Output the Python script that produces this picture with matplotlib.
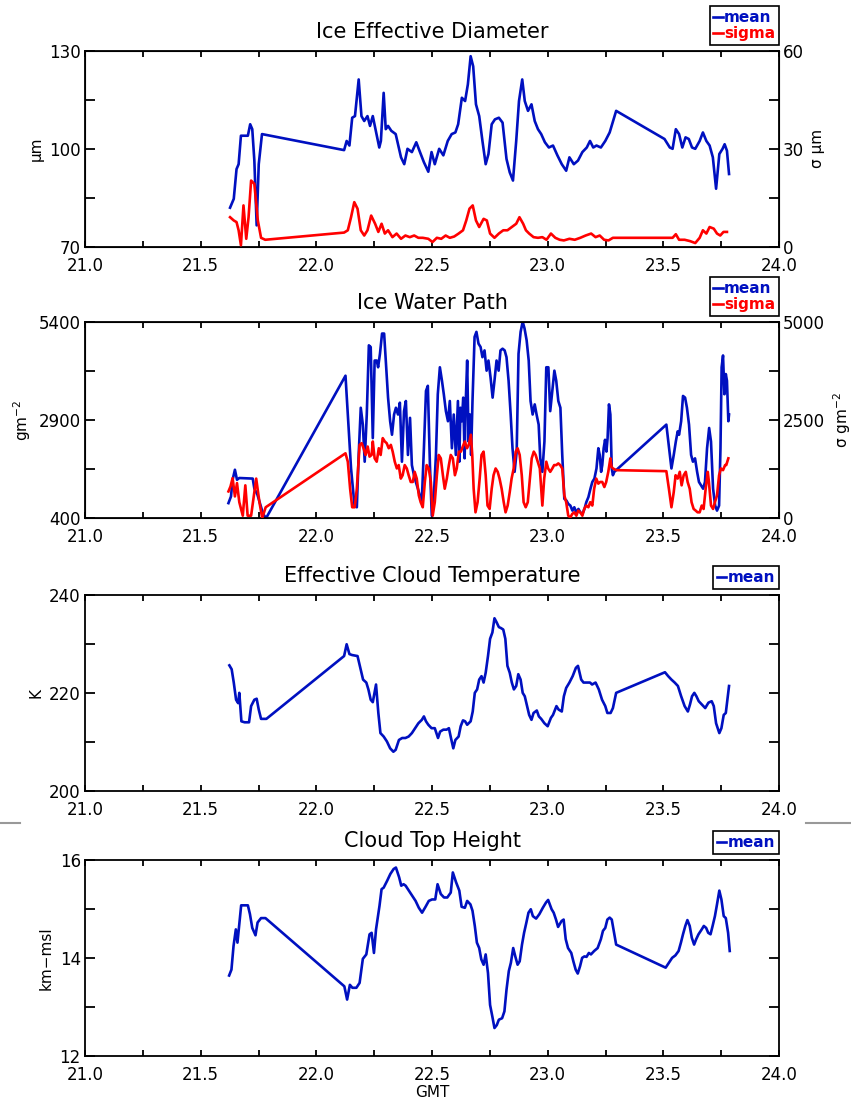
import numpy as np
import matplotlib.pyplot as plt
from matplotlib.lines import Line2D

##########################
# values (time in GMT hours)

# Ice Effective Diameter - mean (um)
ied_t = [21.627, 21.643, 21.655, 21.664, 21.674, 21.704, 21.714, 21.723, 21.732, 21.742, 21.751, 21.765,
         22.12, 22.131, 22.143, 22.155, 22.167, 22.183, 22.195, 22.207, 22.221, 22.232, 22.244, 22.26,
         22.272, 22.279, 22.291, 22.3, 22.31, 22.324, 22.343, 22.366, 22.38, 22.394, 22.413, 22.432,
         22.448, 22.465, 22.484, 22.498, 22.512, 22.531, 22.549, 22.568, 22.585, 22.601, 22.613, 22.629,
         22.643, 22.655, 22.667, 22.678, 22.69, 22.704, 22.718, 22.732, 22.744, 22.758, 22.772, 22.789,
         22.805, 22.822, 22.836, 22.85, 22.864, 22.876, 22.89, 22.901, 22.915, 22.93, 22.944, 22.958,
         22.972, 22.988, 23.005, 23.023, 23.042, 23.061, 23.08, 23.094, 23.113, 23.131, 23.15, 23.169,
         23.183, 23.197, 23.211, 23.23, 23.249, 23.268, 23.296, 23.505, 23.528, 23.54, 23.554, 23.568,
         23.582, 23.596, 23.61, 23.624, 23.638, 23.657, 23.671, 23.686, 23.7, 23.714, 23.728, 23.742,
         23.756, 23.765, 23.775, 23.784]
ied_mean = [82, 84.7, 93.8, 95.3, 104, 104, 107.5, 106, 96.4, 76.6, 95.3, 104.5,
            99.6, 102.4, 101, 109.5, 110, 121.2, 110, 108.5, 110, 107, 110, 104.5,
            100.4, 102.4, 117.1, 106, 107, 105.5, 104.5, 97.4, 95.3, 100, 99, 102,
            99, 95.9, 93, 99, 95.3, 100, 98, 102.4, 104.5, 105, 107.5, 115.6,
            114.6, 119.7, 128.3, 125.2, 113.6, 110, 102.4, 95.3, 98.4, 107.5, 109, 109.5,
            108, 96.9, 92.8, 90.3, 102.4, 114.6, 121.2, 114.6, 111.6, 113.6, 108.5, 106,
            104.5, 102, 100.4, 101, 98, 95.3, 93.3, 97.4, 95.3, 96.4, 99, 100.4,
            102.4, 100.4, 101, 100.4, 102.4, 105, 111.6, 103, 100.4, 100, 106, 104.5,
            100.4, 103.5, 103, 100.4, 100, 102.4, 105, 102.4, 101, 97.4, 87.8, 98.4,
            100, 101.4, 99.4, 92.3]

# Ice Effective Diameter - sigma (um)
ieds_t = [21.627, 21.643, 21.655, 21.664, 21.674, 21.685, 21.697, 21.707, 21.718, 21.732, 21.747, 21.761,
          21.779, 22.12, 22.136, 22.15, 22.164, 22.178, 22.192, 22.207, 22.221, 22.237, 22.254, 22.268,
          22.282, 22.296, 22.31, 22.329, 22.347, 22.366, 22.385, 22.404, 22.423, 22.441, 22.46, 22.484,
          22.502, 22.521, 22.54, 22.559, 22.577, 22.596, 22.615, 22.634, 22.648, 22.662, 22.676, 22.69,
          22.704, 22.723, 22.737, 22.751, 22.77, 22.789, 22.808, 22.826, 22.845, 22.864, 22.878, 22.894,
          22.906, 22.92, 22.939, 22.958, 22.977, 22.995, 23.014, 23.033, 23.052, 23.07, 23.094, 23.117,
          23.141, 23.164, 23.188, 23.207, 23.225, 23.244, 23.263, 23.282, 23.305, 23.54, 23.554, 23.568,
          23.592, 23.615, 23.638, 23.657, 23.671, 23.686, 23.7, 23.718, 23.732, 23.746, 23.76, 23.775]
ied_sigma = [9.1, 8.1, 7.6, 5.1, 0.5, 12.7, 2.5, 9.1, 20.3, 19.3, 8.1, 2.8,
             2.2, 4.4, 5.1, 9.1, 13.7, 11.7, 5.1, 3.5, 5.1, 9.6, 7.1, 4.6,
             7.1, 4.1, 5.1, 3.0, 4.1, 2.5, 3.5, 3.0, 3.5, 2.8, 2.8, 2.5,
             1.5, 2.8, 2.5, 3.5, 2.8, 3.2, 4.1, 5.1, 8.1, 11.7, 12.7, 8.1,
             6.1, 8.6, 8.1, 4.1, 2.8, 4.1, 5.1, 5.1, 6.1, 7.1, 9.1, 7.1,
             5.1, 4.1, 3.0, 2.8, 3.0, 2.2, 4.1, 2.8, 2.2, 2.0, 2.5, 2.2,
             2.8, 3.5, 4.1, 3.0, 3.5, 2.2, 2.0, 2.8, 2.8, 2.8, 3.9, 2.2,
             2.2, 1.8, 1.2, 2.8, 5.1, 4.1, 6.1, 5.6, 4.1, 3.5, 4.6, 4.6]

# Ice Water Path - mean (g m-2)
iwp_t = [21.62, 21.631, 21.638, 21.648, 21.657, 21.667, 21.725, 21.732, 21.745, 21.77, 21.783,
         22.126, 22.136, 22.15, 22.165, 22.175, 22.183, 22.192, 22.201, 22.209, 22.218, 22.227, 22.235,
         22.244, 22.252, 22.261, 22.267, 22.275, 22.284, 22.293, 22.301, 22.31, 22.319, 22.327, 22.336,
         22.344, 22.353, 22.361, 22.37, 22.379, 22.387, 22.396, 22.405, 22.413, 22.422, 22.43, 22.439,
         22.447, 22.456, 22.465, 22.474, 22.482, 22.491, 22.499, 22.508, 22.517, 22.525, 22.534, 22.543,
         22.551, 22.56, 22.569, 22.577, 22.586, 22.594, 22.603, 22.612, 22.618, 22.623, 22.629, 22.635,
         22.641, 22.646, 22.652, 22.658, 22.664, 22.669, 22.675, 22.684, 22.692, 22.701, 22.71, 22.718,
         22.727, 22.736, 22.744, 22.753, 22.762, 22.77, 22.779, 22.788, 22.796, 22.805, 22.814, 22.822,
         22.831, 22.84, 22.848, 22.857, 22.866, 22.874, 22.883, 22.892, 22.9, 22.909, 22.918, 22.926,
         22.935, 22.944, 22.952, 22.961, 22.968, 22.977, 22.986, 22.994, 23.003, 23.011, 23.02, 23.029,
         23.037, 23.046, 23.055, 23.063, 23.072, 23.081, 23.089, 23.098, 23.107, 23.115, 23.124, 23.133,
         23.141, 23.15, 23.159, 23.167, 23.176, 23.185, 23.193, 23.202, 23.211, 23.219, 23.225, 23.231,
         23.236, 23.242, 23.248, 23.254, 23.259, 23.265, 23.271, 23.277, 23.282, 23.288, 23.513, 23.525,
         23.535, 23.545, 23.554, 23.562, 23.568, 23.577, 23.585, 23.594, 23.602, 23.611, 23.62, 23.628,
         23.637, 23.646, 23.654, 23.663, 23.672, 23.68, 23.689, 23.698, 23.706, 23.715, 23.724, 23.732,
         23.741, 23.747, 23.752, 23.758, 23.764, 23.77, 23.775, 23.781, 23.784]
iwp_mean = [780, 950, 1375, 1630, 1375, 1420, 1405, 1150, 1000, 500, 400,
            4025, 3037, 1663, 718, 675, 2007, 3209, 2780, 1835, 3037, 4799, 4756,
            2436, 4412, 4412, 4240, 4584, 5099, 5099, 4326, 3467, 2866, 2522, 3037,
            3209, 3037, 3338, 1835, 3123, 3381, 2007, 2952, 1749, 1491, 1319, 1147,
            976, 847, 2178, 3639, 3768, 1749, 460, 976, 2007, 3553, 4240, 3897,
            3553, 3123, 2866, 3381, 2178, 3037, 2007, 3381, 1835, 3209, 2866, 3467,
            1921, 3381, 4412, 2350, 3037, 2007, 3381, 5013, 5142, 4842, 4756, 4498,
            4670, 4154, 4412, 3983, 3467, 3897, 4412, 4154, 4670, 4713, 4670, 4498,
            3897, 3037, 2178, 1577, 2093, 4584, 5142, 5400, 5228, 4928, 4412, 3381,
            3037, 3295, 3037, 2780, 1921, 1577, 2350, 4240, 4240, 3123, 3639, 4154,
            3897, 3381, 3209, 2007, 890, 847, 761, 718, 589, 675, 546, 632,
            546, 503, 632, 804, 933, 1147, 1319, 1405, 1663, 2178, 2007, 1577,
            1749, 2178, 2393, 2093, 2436, 3295, 3037, 1663, 1491, 1577, 2780, 2178,
            1663, 2007, 2350, 2608, 2522, 2866, 3510, 3467, 3209, 2780, 2007, 1835,
            1921, 1577, 1319, 1233, 1147, 1319, 2178, 2694, 2350, 1147, 718, 589,
            718, 2178, 4240, 4541, 3553, 4068, 3897, 2866, 3037]

# Ice Water Path - sigma (g m-2)
iwps_t = [21.62, 21.629, 21.638, 21.648, 21.657, 21.667, 21.682, 21.693, 21.703, 21.718, 21.74, 21.754,
          21.766, 21.781, 22.126, 22.136, 22.146, 22.155, 22.166, 22.175, 22.187, 22.196, 22.204, 22.213,
          22.222, 22.23, 22.239, 22.244, 22.252, 22.261, 22.27, 22.278, 22.287, 22.296, 22.304, 22.313,
          22.322, 22.33, 22.339, 22.348, 22.356, 22.365, 22.373, 22.382, 22.391, 22.399, 22.408, 22.417,
          22.425, 22.434, 22.443, 22.451, 22.46, 22.469, 22.477, 22.486, 22.495, 22.503, 22.512, 22.521,
          22.529, 22.538, 22.547, 22.555, 22.564, 22.573, 22.581, 22.59, 22.599, 22.607, 22.616, 22.625,
          22.633, 22.642, 22.651, 22.659, 22.668, 22.674, 22.68, 22.688, 22.697, 22.706, 22.714, 22.723,
          22.732, 22.74, 22.749, 22.758, 22.766, 22.775, 22.784, 22.792, 22.801, 22.81, 22.818, 22.827,
          22.836, 22.844, 22.853, 22.862, 22.87, 22.879, 22.888, 22.896, 22.905, 22.914, 22.922, 22.931,
          22.94, 22.948, 22.957, 22.966, 22.977, 22.985, 22.994, 23.002, 23.011, 23.02, 23.028, 23.037,
          23.046, 23.054, 23.063, 23.072, 23.08, 23.089, 23.098, 23.106, 23.115, 23.124, 23.132, 23.141,
          23.15, 23.158, 23.167, 23.176, 23.184, 23.193, 23.201, 23.21, 23.219, 23.227, 23.236, 23.245,
          23.253, 23.262, 23.271, 23.276, 23.282, 23.297, 23.513, 23.524, 23.535, 23.545, 23.553, 23.562,
          23.571, 23.579, 23.588, 23.597, 23.605, 23.614, 23.622, 23.631, 23.64, 23.648, 23.657, 23.666,
          23.674, 23.683, 23.692, 23.697, 23.706, 23.715, 23.723, 23.732, 23.741, 23.749, 23.758, 23.767,
          23.772, 23.781]
iwp_sigma = [678, 805, 1017, 551, 890, 404, 60, 833, 60, 60, 1005, 404,
             0, 275, 1649, 1435, 747, 275, 275, 747, 1864, 1907, 1778, 1607,
             1821, 1564, 1607, 1950, 1521, 1435, 1778, 1607, 2036, 1950, 1907, 1778,
             1864, 1692, 1435, 1263, 1349, 1005, 1091, 1349, 1263, 1091, 919, 919,
             1177, 1005, 576, 404, 275, 919, 1349, 1263, 919, 60, 404, 1091,
             1607, 1521, 1091, 747, 1005, 1349, 1607, 1521, 1091, 1263, 1692, 1692,
             1821, 1950, 1778, 1864, 2122, 1607, 747, 146, 404, 1005, 1607, 1692,
             1091, 318, 232, 747, 1091, 1263, 1177, 1005, 747, 404, 146, 318,
             661, 1005, 1263, 1692, 1778, 1607, 1091, 404, 275, 404, 919, 1521,
             1692, 1607, 1435, 1263, 318, 1005, 1435, 1263, 1177, 1263, 1349, 1349,
             1392, 1349, 1263, 576, 404, 60, 17, 103, 146, 60, 189, 146,
             60, 232, 318, 275, 404, 318, 747, 1005, 876, 919, 919, 790,
             919, 1177, 1521, 1306, 1263, 1220, 1194, 747, 275, 661, 1091, 1005,
             1177, 833, 1091, 1177, 919, 747, 404, 232, 189, 146, 146, 318,
             232, 747, 1177, 919, 318, 232, 404, 576, 1091, 1263, 1220, 1349,
             1349, 1521]

# Effective Cloud Temperature - mean (K)
ect_t = [21.624, 21.634, 21.643, 21.653, 21.662, 21.667, 21.676, 21.69, 21.709, 21.718, 21.732, 21.742,
         21.751, 21.761, 21.784, 22.12, 22.131, 22.143, 22.155, 22.178, 22.19, 22.202, 22.216, 22.225,
         22.235, 22.244, 22.258, 22.268, 22.277, 22.291, 22.305, 22.319, 22.333, 22.343, 22.357, 22.371,
         22.385, 22.399, 22.413, 22.427, 22.441, 22.456, 22.465, 22.474, 22.484, 22.498, 22.512, 22.526,
         22.535, 22.549, 22.563, 22.573, 22.582, 22.592, 22.601, 22.615, 22.624, 22.634, 22.643, 22.652,
         22.667, 22.676, 22.685, 22.695, 22.704, 22.714, 22.723, 22.732, 22.742, 22.751, 22.761, 22.77,
         22.779, 22.789, 22.798, 22.808, 22.817, 22.826, 22.836, 22.845, 22.854, 22.864, 22.873, 22.883,
         22.892, 22.901, 22.911, 22.92, 22.93, 22.939, 22.953, 22.962, 22.972, 22.986, 23.0, 23.014,
         23.023, 23.038, 23.047, 23.061, 23.07, 23.08, 23.094, 23.108, 23.122, 23.131, 23.145, 23.155,
         23.169, 23.183, 23.192, 23.207, 23.221, 23.235, 23.249, 23.258, 23.272, 23.282, 23.296, 23.507,
         23.521, 23.535, 23.549, 23.563, 23.577, 23.592, 23.606, 23.615, 23.624, 23.634, 23.643, 23.653,
         23.667, 23.681, 23.695, 23.709, 23.718, 23.728, 23.742, 23.751, 23.761, 23.77, 23.784]
ect_mean = [225.6, 224.8, 222.1, 218.6, 217.9, 220, 214.2, 214, 214, 217.3, 218.6, 218.8,
            216.6, 214.7, 214.7, 227.5, 229.9, 227.9, 227.7, 227.5, 225.1, 222.7, 222.1, 220.7,
            218.6, 218.1, 221.7, 215.9, 211.8, 211.1, 210.1, 208.7, 208, 208.4, 210.4, 210.8,
            210.8, 211.1, 211.8, 212.8, 213.8, 214.5, 215.2, 214.2, 213.5, 212.8, 212.8, 210.8,
            212.1, 212.5, 212.5, 212.8, 210.8, 208.7, 210.4, 211.1, 213.2, 214.4, 214.2, 213.5,
            214.2, 216.2, 220, 220.7, 222.7, 223.4, 222.1, 224.1, 227.5, 231, 232.3, 235.2,
            234.4, 233.4, 233.2, 232.9, 231, 225.5, 224.1, 222.1, 220.7, 221.4, 223.8, 222.7,
            220, 219.3, 217.3, 215.5, 214.5, 215.9, 216.4, 215.2, 214.7, 213.8, 213.2, 214.9,
            215.5, 217.3, 216.6, 216.2, 219.3, 221, 222.1, 223.4, 225.1, 225.5, 222.7, 222.1,
            222.1, 222.1, 221.7, 222.1, 220.7, 218.6, 217.3, 215.9, 215.9, 216.9, 220, 224.2,
            223.4, 222.7, 222.1, 221.4, 219.3, 217.3, 216.2, 217.6, 219.3, 220, 219.3, 218.3,
            217.6, 216.9, 218, 218.3, 217.3, 213.8, 211.8, 212.8, 215.5, 215.9, 221.4]

# Cloud Top Height - mean (km msl)
cth_t = [21.623, 21.633, 21.642, 21.652, 21.659, 21.666, 21.675, 21.69, 21.704, 21.713, 21.723, 21.737,
         21.746, 21.761, 21.78, 22.121, 22.133, 22.145, 22.156, 22.173, 22.187, 22.201, 22.216, 22.23,
         22.239, 22.249, 22.258, 22.273, 22.282, 22.291, 22.306, 22.32, 22.334, 22.344, 22.358, 22.367,
         22.377, 22.386, 22.4, 22.415, 22.429, 22.443, 22.457, 22.472, 22.486, 22.5, 22.514, 22.524,
         22.538, 22.552, 22.566, 22.581, 22.59, 22.604, 22.618, 22.628, 22.642, 22.652, 22.666, 22.675,
         22.685, 22.694, 22.704, 22.713, 22.723, 22.732, 22.742, 22.751, 22.761, 22.77, 22.78, 22.789,
         22.803, 22.813, 22.822, 22.832, 22.841, 22.851, 22.86, 22.87, 22.879, 22.889, 22.898, 22.908,
         22.917, 22.927, 22.936, 22.95, 22.964, 22.979, 22.993, 23.002, 23.017, 23.026, 23.036, 23.045,
         23.06, 23.069, 23.078, 23.088, 23.102, 23.111, 23.121, 23.13, 23.14, 23.149, 23.159, 23.168,
         23.178, 23.187, 23.201, 23.216, 23.23, 23.239, 23.249, 23.258, 23.268, 23.277, 23.287, 23.296,
         23.51, 23.524, 23.538, 23.552, 23.566, 23.576, 23.585, 23.595, 23.604, 23.614, 23.623, 23.633,
         23.642, 23.652, 23.666, 23.675, 23.685, 23.694, 23.704, 23.713, 23.723, 23.732, 23.742, 23.751,
         23.761, 23.77, 23.78, 23.787]
cth_mean = [13.64, 13.76, 14.24, 14.58, 14.31, 14.65, 15.07, 15.07, 15.07, 14.89, 14.61, 14.46,
            14.72, 14.81, 14.81, 13.42, 13.15, 13.45, 13.39, 13.39, 13.49, 13.98, 14.07, 14.48,
            14.51, 14.1, 14.58, 15.06, 15.4, 15.43, 15.57, 15.71, 15.81, 15.84, 15.64, 15.47,
            15.5, 15.47, 15.37, 15.26, 15.16, 15.02, 14.92, 15.04, 15.16, 15.19, 15.19, 15.5,
            15.3, 15.23, 15.23, 15.33, 15.74, 15.54, 15.37, 15.04, 15.02, 15.16, 15.09, 14.96,
            14.65, 14.31, 14.2, 13.97, 13.86, 14.07, 13.69, 13.04, 12.8, 12.57, 12.63, 12.74,
            12.77, 12.91, 13.35, 13.73, 13.9, 14.2, 14.03, 13.86, 13.93, 14.27, 14.51, 14.72,
            14.92, 14.99, 14.85, 14.8, 14.89, 15.02, 15.13, 15.18, 14.99, 14.92, 14.78, 14.63,
            14.75, 14.78, 14.38, 14.2, 14.1, 13.93, 13.76, 13.68, 13.83, 14.0, 14.03, 14.02,
            14.1, 14.07, 14.14, 14.2, 14.38, 14.55, 14.61, 14.78, 14.82, 14.78, 14.51, 14.27,
            13.8, 13.9, 14.0, 14.05, 14.14, 14.31, 14.48, 14.65, 14.77, 14.65, 14.41, 14.27,
            14.38, 14.48, 14.58, 14.65, 14.61, 14.51, 14.48, 14.65, 14.85, 15.09, 15.37, 15.19,
            14.85, 14.81, 14.51, 14.14]

##########################

blue = "#0010c0"
red = "#ff0000"
lw = 1.9

plt.rcParams['font.family'] = ['DejaVu Sans']

fig = plt.figure(figsize=(8.51, 11.06), dpi=100)

left, width, height = 0.0999, 0.8155, 0.1775
bottoms = [0.7767, 0.5316, 0.2848, 0.0452]

tick_pos = np.arange(21.0, 24.01, 0.25)


def style_axis(ax, ylim, yticks, ylabels):
    # IDL-like box: inward ticks on every side
    ax.set_xlim(21.0, 24.0)
    ax.set_xticks(tick_pos)
    ax.set_xticklabels(["%.1f" % v if abs(v * 2 - round(v * 2)) < 1e-6 else "" for v in tick_pos])
    ax.set_ylim(ylim)
    ax.set_yticks(yticks)
    ax.set_yticklabels(ylabels)
    ax.tick_params(axis='x', direction='in', top=True, length=4, width=1.3,
                   labelsize=12, pad=7)
    ax.tick_params(axis='y', direction='in', right=True, length=7, width=1.3,
                   labelsize=12, pad=3)
    for s in ax.spines.values():
        s.set_linewidth(1.3)


def add_legend(ax, handles, labels):
    leg = ax.legend(handles, labels, loc='lower right', bbox_to_anchor=(1.0, 1.03),
                    borderaxespad=0, fancybox=False, edgecolor='black', framealpha=1,
                    handlelength=0.6, handletextpad=0.1, borderpad=0.25,
                    labelspacing=0.05, labelcolor='linecolor',
                    prop={'weight': 'bold', 'size': 11})
    leg.get_frame().set_linewidth(1.2)


# ---- Ice Effective Diameter
ax1 = fig.add_axes([left, bottoms[0], width, height])
l1, = ax1.plot(ied_t, ied_mean, color=blue, lw=lw)
style_axis(ax1, (70, 130), [70, 85, 100, 115, 130], ["70", "", "100", "", "130"])
ax1.set_ylabel("\u03bcm", fontsize=11)
ax1r = ax1.twinx()
l2, = ax1r.plot(ieds_t, ied_sigma, color=red, lw=lw)
ax1r.set_ylim(0, 60)
ax1r.set_yticks([0, 15, 30, 45, 60])
ax1r.set_yticklabels(["0", "", "30", "", "60"])
ax1r.tick_params(axis='y', direction='in', length=7, width=1.3, labelsize=12, pad=3)
ax1r.set_ylabel("\u03c3 \u03bcm", fontsize=11, rotation=90, labelpad=4)
ax1.set_title("Ice Effective Diameter", fontsize=15, pad=9)
add_legend(ax1, [l1, l2], ["mean", "sigma"])

# ---- Ice Water Path
ax2 = fig.add_axes([left, bottoms[1], width, height])
m1, = ax2.plot(iwp_t, iwp_mean, color=blue, lw=lw)
style_axis(ax2, (400, 5400), [400, 1650, 2900, 4150, 5400], ["400", "", "2900", "", "5400"])
ax2.set_ylabel("gm$^{-2}$", fontsize=11)
ax2r = ax2.twinx()
m2, = ax2r.plot(iwps_t, iwp_sigma, color=red, lw=lw)
ax2r.set_ylim(0, 5000)
ax2r.set_yticks([0, 1250, 2500, 3750, 5000])
ax2r.set_yticklabels(["0", "", "2500", "", "5000"])
ax2r.tick_params(axis='y', direction='in', length=7, width=1.3, labelsize=12, pad=3)
ax2r.set_ylabel("\u03c3 gm$^{-2}$", fontsize=11, rotation=90, labelpad=4)
ax2.set_title("Ice Water Path", fontsize=15, pad=9)
add_legend(ax2, [m1, m2], ["mean", "sigma"])

# ---- Effective Cloud Temperature
ax3 = fig.add_axes([left, bottoms[2], width, height])
n1, = ax3.plot(ect_t, ect_mean, color=blue, lw=lw)
style_axis(ax3, (200, 240), [200, 210, 220, 230, 240], ["200", "", "220", "", "240"])
ax3.set_ylabel("K", fontsize=11)
ax3.set_title("Effective Cloud Temperature", fontsize=15, pad=9)
add_legend(ax3, [n1], ["mean"])

# ---- Cloud Top Height
ax4 = fig.add_axes([left, bottoms[3], width, height])
k1, = ax4.plot(cth_t, cth_mean, color=blue, lw=lw)
style_axis(ax4, (12, 16), [12, 13, 14, 15, 16], ["12", "", "14", "", "16"])
ax4.set_ylabel("km\u2212msl", fontsize=11)
ax4.set_xlabel("GMT", fontsize=11, labelpad=1)
ax4.set_title("Cloud Top Height", fontsize=15, pad=9)
add_legend(ax4, [k1], ["mean"])

# stray separator marks at the page edges
fig.add_artist(Line2D([0.0, 0.024], [0.256, 0.256], color="#999999", lw=1.5))
fig.add_artist(Line2D([0.947, 1.0], [0.256, 0.256], color="#999999", lw=1.5))

plt.savefig("out.png", dpi=100)
